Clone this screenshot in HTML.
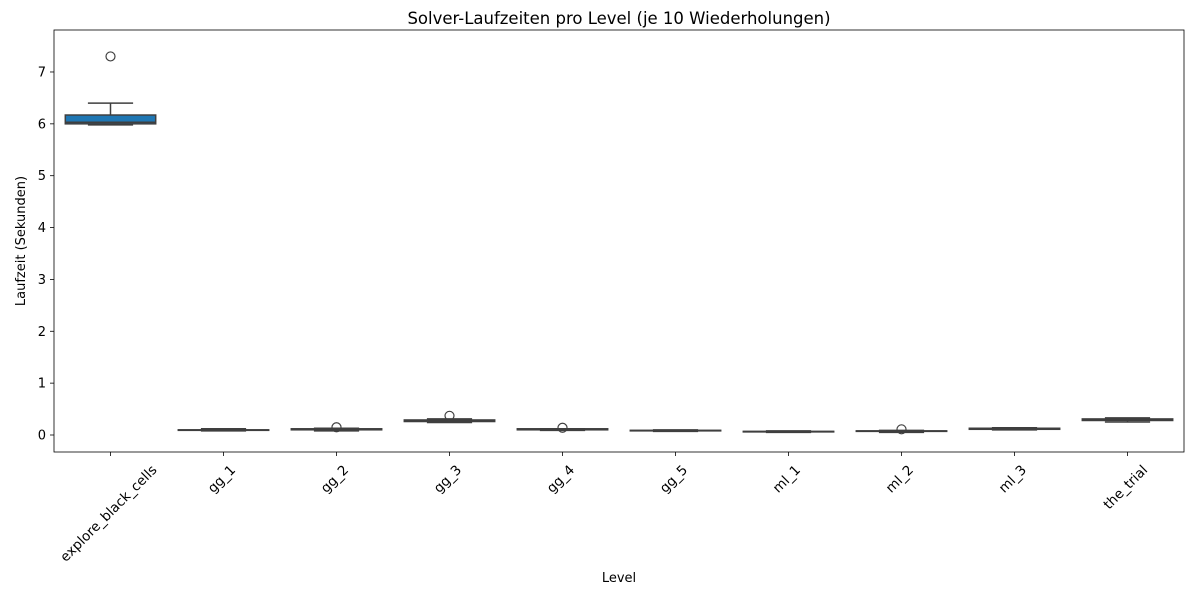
<!DOCTYPE html>
<html><head><meta charset="utf-8"><style>body{margin:0;background:#fff}svg{font-family:"DejaVu Sans",sans-serif}</style></head><body>
<svg id="c" width="1200" height="600"></svg>
<script>
const categories=["explore_black_cells","gg_1","gg_2","gg_3","gg_4","gg_5","ml_1","ml_2","ml_3","the_trial"];
const whiskerLow=[5.98,0.08,0.08,0.24,0.09,0.07,0.05,0.05,0.10,0.25];
const q1=[6.00,0.09,0.10,0.26,0.10,0.08,0.06,0.07,0.11,0.28];
const medians=[6.03,0.095,0.11,0.27,0.11,0.085,0.065,0.075,0.12,0.29];
const q3=[6.17,0.10,0.12,0.29,0.12,0.09,0.07,0.08,0.13,0.31];
const whiskerHigh=[6.40,0.12,0.13,0.31,0.12,0.10,0.08,0.09,0.14,0.33];
const outliers=[[7.3],[],[0.15],[0.37],[0.14],[],[],[0.11],[],[]];
const yTicks=[0,1,2,3,4,5,6,7];
const ns="http://www.w3.org/2000/svg",svg=document.getElementById('c');
const L=54,R=1184,T=30,B=452;
const y=v=>435-v*51.86;
const step=(R-L)/categories.length;
const x=i=>L+step*(i+0.5);
function el(t,a,p){const e=document.createElementNS(ns,t);for(const k in a)e.setAttribute(k,a[k]);(p||svg).appendChild(e);return e;}
const fr=el('rect',{x:L,y:T,width:R-L,height:B-T,fill:'none',stroke:'#000','stroke-width':0.8});


yTicks.forEach(v=>{
  const g=el('g',{});
  
  
  el('line',{x1:L-4,x2:L,y1:y(v),y2:y(v),stroke:'#000','stroke-width':0.8},g);
  const t=el('text',{x:L-8,y:y(v)+4.5,'text-anchor':'end','font-size':13},g);t.textContent=v;
});
categories.forEach((c,i)=>{
  const cx=x(i),w=step*0.8,g=el('g',{});
  
  
  el('line',{x1:cx,x2:cx,y1:y(whiskerLow[i]),y2:y(q1[i]),stroke:'#3f3f3f','stroke-width':1.5},g);
  el('line',{x1:cx,x2:cx,y1:y(q3[i]),y2:y(whiskerHigh[i]),stroke:'#3f3f3f','stroke-width':1.5},g);
  el('line',{x1:cx-w/4,x2:cx+w/4,y1:y(whiskerLow[i]),y2:y(whiskerLow[i]),stroke:'#3f3f3f','stroke-width':1.5},g);
  el('line',{x1:cx-w/4,x2:cx+w/4,y1:y(whiskerHigh[i]),y2:y(whiskerHigh[i]),stroke:'#3f3f3f','stroke-width':1.5},g);
  el('rect',{x:cx-w/2,y:y(q3[i]),width:w,height:Math.max(y(q1[i])-y(q3[i]),0.5),fill:'#1f77b4',stroke:'#3f3f3f','stroke-width':1.5},g);
  el('line',{x1:cx-w/2,x2:cx+w/2,y1:y(medians[i]),y2:y(medians[i]),stroke:'#3f3f3f','stroke-width':1.5},g);
  outliers[i].forEach(o=>el('circle',{cx:cx,cy:y(o),r:4.5,fill:'none',stroke:'#3f3f3f','stroke-width':1.2},g));
  el('line',{x1:cx,x2:cx,y1:B,y2:B+4,stroke:'#000','stroke-width':0.8},g);
  const t=el('text',{'text-anchor':'middle','font-size':13.5},g);t.textContent=c;
  const len=t.getComputedTextLength();
  const half=len*0.7071/2+4.5;
  t.setAttribute('transform',`translate(${cx-2},${B+11+half}) rotate(-45)`);
  t.setAttribute('dy','4.5');
});
const tt=el('text',{x:(L+R)/2,y:24,'text-anchor':'middle','font-size':16.5});tt.textContent='Solver-Laufzeiten pro Level (je 10 Wiederholungen)';


const xl=el('text',{x:(L+R)/2,y:582,'text-anchor':'middle','font-size':13});xl.textContent='Level';


const yl=el('text',{'text-anchor':'middle','font-size':13,transform:`translate(25,${(T+B)/2}) rotate(-90)`});yl.textContent='Laufzeit (Sekunden)';


</script></body></html>
